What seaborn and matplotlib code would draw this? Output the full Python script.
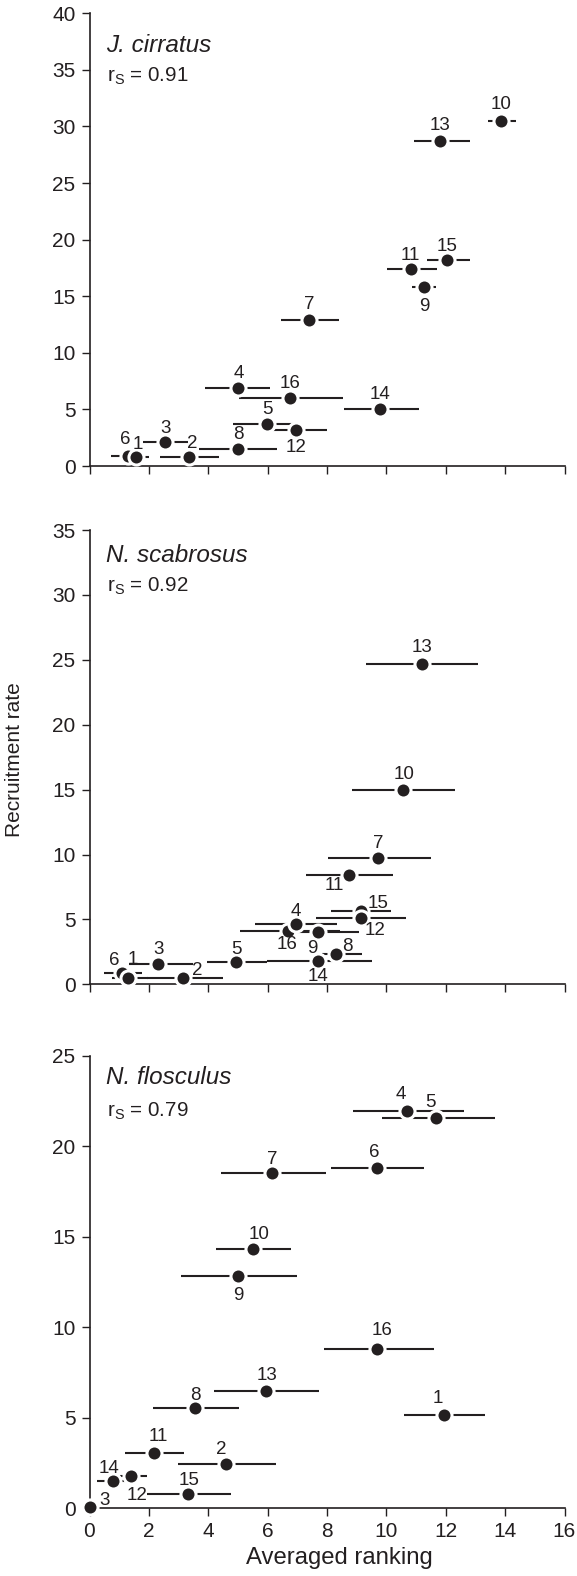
import matplotlib
matplotlib.use("Agg")
import matplotlib.pyplot as plt
import seaborn as sns
import pandas as pd

# ---------------- data ----------------
SITES = list(range(1, 17))

# J. cirratus
jc_x  = [1.56, 3.34, 2.55, 5.00, 5.98, 1.28, 7.39, 5.00, 11.27, 13.86, 10.82, 6.97, 11.82, 9.80, 12.04, 6.75]
jc_y  = [0.79, 0.79, 2.12, 6.90, 3.74, 0.91, 12.90, 1.53, 15.80, 30.50, 17.40, 3.15, 28.70, 5.00, 18.20, 6.03]
jc_lo = [1.25, 2.37, 1.81, 3.89, 4.83, 0.74, 6.46, 3.68, 10.85, 13.43, 10.03, 6.07, 10.92, 8.58, 11.36, 5.02]
jc_hi = [1.99, 4.36, 3.31, 6.09, 6.95, 1.80, 8.40, 6.32, 11.68, 14.36, 11.72, 7.99, 12.80, 11.10, 12.80, 8.55]

# N. scabrosus
ns_x  = [1.30, 3.14, 2.31, 6.94, 4.95, 1.10, 9.72, 8.31, 7.70, 10.55, 8.73, 9.15, 11.20, 7.70, 9.15, 6.69]
ns_y  = [0.52, 0.52, 1.58, 4.68, 1.71, 0.90, 9.74, 2.35, 4.00, 14.99, 8.45, 5.12, 24.70, 1.83, 5.63, 4.08]
ns_lo = [0.76, 1.94, 1.32, 5.57, 3.96, 0.48, 8.04, 7.83, 6.94, 8.84, 7.30, 7.64, 9.33, 5.98, 8.15, 5.08]
ns_hi = [1.98, 4.50, 3.48, 8.34, 5.98, 1.77, 11.51, 9.18, 9.07, 12.30, 10.22, 10.67, 13.07, 9.52, 10.17, 8.45]

# N. flosculus
nf_x  = [11.93, 4.60, 0.00, 10.69, 11.67, 9.70, 6.15, 3.56, 5.00, 5.50, 2.16, 1.41, 5.93, 0.79, 3.32, 9.69]
nf_y  = [5.15, 2.43, 0.05, 21.95, 21.56, 18.80, 18.54, 5.52, 12.85, 14.33, 3.07, 1.78, 6.46, 1.51, 0.77, 8.82]
nf_lo = [10.59, 2.99, 0.00, 8.89, 9.85, 8.13, 4.42, 2.14, 3.09, 4.25, 1.21, 1.03, 4.18, 0.25, 1.93, 7.90]
nf_hi = [13.33, 6.29, 0.00, 12.62, 13.66, 11.28, 7.96, 5.02, 7.00, 6.78, 3.17, 1.95, 7.72, 1.26, 4.78, 11.62]

SPECIES = ["J. cirratus", "N. scabrosus", "N. flosculus"]
RHO = ["0.91", "0.92", "0.79"]
YMAX = [40, 35, 25]
X_TICKS = list(range(0, 17, 2))

# ---------------- label placement (pixel offsets from the point) ----------------
DEFAULT_OFF = (0, 14)
jc_off = {9: (0, -19), 12: (0, -17), 2: (4, 14), 1: (2, 13), 6: (-2, 16), 4: (1, 14),
          10: (0, 16), 13: (0, 16), 7: (0, 16), 14: (0, 15)}
ns_off = {10: (1, 15), 11: (-14, -11), 15: (17, 8), 12: (14, -13), 4: (0, 12), 16: (-1, -13),
          9: (-6, -16), 8: (11, 7), 14: (0, -16), 5: (0, 13), 2: (15, 7), 1: (5, 18),
          6: (-8, 12), 13: (0, 16)}
nf_off = {16: (5, 18), 13: (1, 16), 8: (0, 13), 1: (-6, 17), 11: (5, 16), 2: (-5, 15),
          14: (-4, 12), 12: (6, -19), 15: (1, 14), 3: (15, 7), 7: (0, 13), 10: (6, 14),
          9: (0, -20), 6: (-3, 15), 4: (-6, 16), 5: (-5, 15)}

# ---------------- style ----------------
INK = "#231f20"
W, H = 577, 1576
sns.set_theme(style="ticks")
plt.rcParams["font.family"] = ["Liberation Sans", "DejaVu Sans"]
plt.rcParams["mathtext.fontset"] = "custom"
plt.rcParams["mathtext.rm"] = "Liberation Sans"
plt.rcParams["mathtext.it"] = "Liberation Sans:italic"

fig = plt.figure(figsize=(W / 100, H / 100), dpi=100)

X_LEFT, X_RIGHT = 89.5, 564.5
panels_px = [(13.3, 466.0), (530.0, 984.3), (1055.6, 1508.3)]  # (top, bottom) in px
title_base = [52, 562, 1084]
rho_base = [82, 592, 1117]

datasets = [
    (jc_x, jc_y, jc_lo, jc_hi, jc_off),
    (ns_x, ns_y, ns_lo, ns_hi, ns_off),
    (nf_x, nf_y, nf_lo, nf_hi, nf_off),
]

for i, ((x, y, lo, hi, offs), (top, bot)) in enumerate(zip(datasets, panels_px)):
    ax = fig.add_axes([X_LEFT / W, 1 - bot / H, (X_RIGHT - X_LEFT) / W, (bot - top) / H])
    df = pd.DataFrame({"x": x, "y": y, "lo": lo, "hi": hi, "site": SITES})
    # draw higher site numbers first so lower-numbered sites sit on top where dots overlap
    df = df.sort_values("site", ascending=False).reset_index(drop=True)
    bars = df[df.hi > df.lo]
    ax.hlines(bars.y, bars.lo, bars.hi, color=INK, lw=1.5, zorder=2, clip_on=False)
    sns.scatterplot(data=df, x="x", y="y", ax=ax, s=118, color=INK, edgecolor="white",
                    linewidth=2.2, zorder=3, clip_on=False, legend=False)
    for _, r in df.iterrows():
        dx, dy = offs.get(int(r.site), DEFAULT_OFF)
        ax.annotate(str(int(r.site)), (r.x, r.y), xytext=(dx * 0.72, dy * 0.72),
                    textcoords="offset points", ha="center", va="center",
                    fontsize=13.5, color=INK, zorder=4)
    ax.set_xlim(0, 16)
    ax.set_ylim(0, YMAX[i])
    ax.set_xticks(X_TICKS)
    ax.set_yticks(list(range(0, YMAX[i] + 1, 5)))
    ax.set_xlabel("")
    ax.set_ylabel("")
    sns.despine(ax=ax)
    for s in ("left", "bottom"):
        ax.spines[s].set_linewidth(1.2)
        ax.spines[s].set_color(INK)
    ax.tick_params(direction="out", length=6, width=1.0, color=INK,
                   labelsize=15, labelcolor=INK, pad=4)
    if i < 2:
        ax.tick_params(axis="x", labelbottom=False)
    fig.text(106 / W, 1 - title_base[i] / H, SPECIES[i], style="italic", fontsize=17.5,
             color=INK, ha="left", va="baseline")
    fig.text(107 / W, 1 - rho_base[i] / H, r"r$_{\mathrm{S}}$ = " + RHO[i], fontsize=14.8,
             color=INK, ha="left", va="baseline")

fig.text(15 / W, 1 - 760 / H, "Recruitment rate", rotation=90, fontsize=15,
         color=INK, ha="center", va="center")
fig.text(339 / W, 1 - 1558 / H, "Averaged ranking", fontsize=17.2,
         color=INK, ha="center", va="center")

fig.savefig("out.png", dpi=100)
